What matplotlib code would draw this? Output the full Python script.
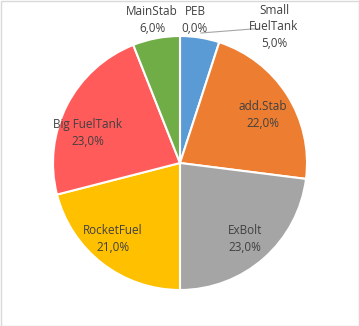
import matplotlib
matplotlib.use("Agg")
import matplotlib.pyplot as plt
from matplotlib.patches import Rectangle

categories = ["PEB", "Small\nFuelTank", "add.Stab", "ExBolt", "RocketFuel", "Big FuelTank", "MainStab"]
values = [0.0, 5.0, 22.0, 23.0, 21.0, 23.0, 6.0]
colors = ["#5B9BD5", "#5B9BD5", "#ED7D31", "#A5A5A5", "#FFC000", "#FF5B5B", "#70AD47"]

# label layout (pixel positions, top-left origin)
label_pos = [(195, 20), (274, 27), (263, 115), (245, 239), (113, 239), (88, 133), (152, 20)]

W, H = 359, 326
fig = plt.figure(figsize=(W / 100, H / 100), dpi=100)
ax = fig.add_axes([0, 0, 1, 1])

ax.add_patch(Rectangle((0.5, 0.5), W - 1, H - 1, fill=False, edgecolor="#D9D9D9", lw=1))

cx, cy, r = 180, H - 163, 127
ax.pie(values, colors=colors, startangle=90, counterclock=False, center=(cx, cy), radius=r,
       wedgeprops=dict(edgecolor="white", linewidth=1.5), frame=True)
ax.set_xlim(0, W)
ax.set_ylim(0, H)
ax.set_aspect("equal")
ax.axis("off")

fs = 8.5
tc = "#404040"
for name, v, (px, py) in zip(categories, values, label_pos):
    txt = f"{name}\n" + f"{v:.1f}".replace(".", ",") + "%"
    ax.text(px, H - py, txt, ha="center", va="center", fontsize=fs, color=tc,
            family="Open Sans", linespacing=1.35)

# leader line for Small FuelTank
ax.plot([201, 252, 258], [H - 33, H - 29, H - 29], color="#A6A6A6", lw=0.8)

fig.savefig("out.png", dpi=100)
